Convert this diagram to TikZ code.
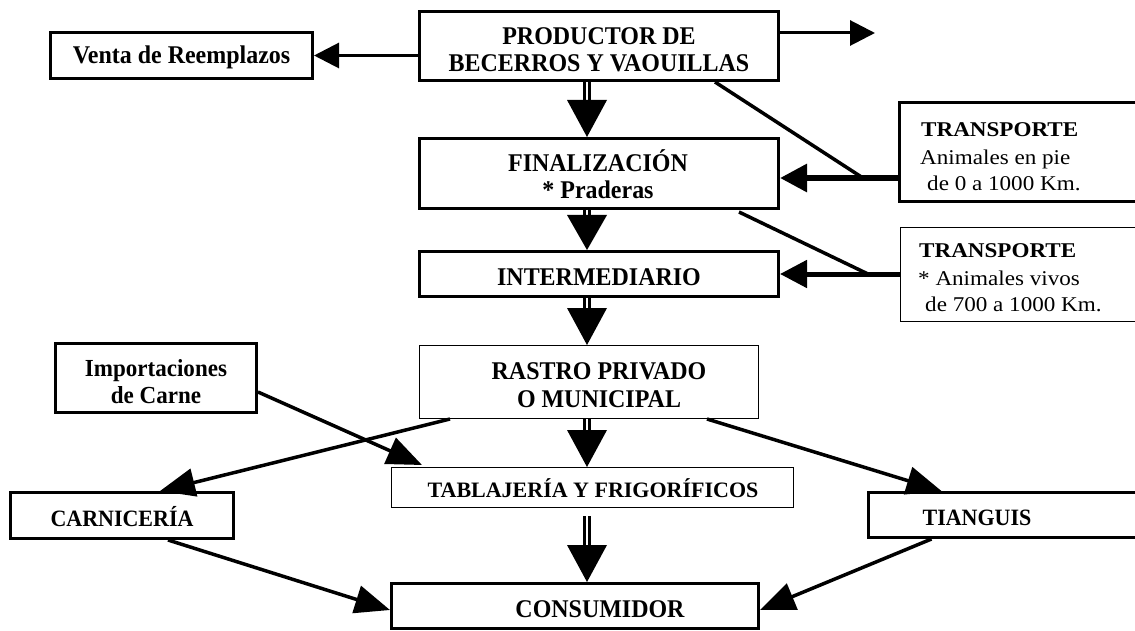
\documentclass[tikz,border=0pt]{standalone}
\usepackage{fontspec}
\setmainfont{Liberation Serif}
\newfontfamily\tallserif[FakeStretch=0.94]{Liberation Serif}
\newfontfamily\wideserif[FakeStretch=1.1]{Liberation Serif}
\usetikzlibrary{arrows.meta,calc}
\begin{document}
\begin{tikzpicture}[x=1pt,y=-1pt,
  tbox/.style={draw, line width=3pt, inner sep=0pt},
  nbox/.style={draw, line width=1pt, inner sep=0pt},
  lbl/.style={inner sep=0pt, anchor=base, font=\tallserif\bfseries\fontsize{25.5}{27}\selectfont},
  slbl/.style={lbl, font=\tallserif\bfseries\fontsize{23.4}{27}\selectfont},
  tlbl/.style={inner sep=0pt, anchor=base west, font=\wideserif\fontsize{21}{27}\selectfont},
  arr/.style={line width=3pt, -{Triangle[length=25pt,width=25pt]}},
  slant/.style={line width=3.5pt, -{Triangle[length=35pt,width=28pt]}},
  dbl/.style={double, line width=3pt, double distance=2pt},
  headfill/.style={fill=black}]
\useasboundingbox (0,0) rectangle (1135,631);
\clip (0,0) rectangle (1135,631);

% boxes
\node[tbox, minimum width=359pt, minimum height=69pt] (prod) at (599,46) {};
\node[tbox, minimum width=262pt, minimum height=46pt] (venta) at (181.5,55.5) {};
\node[tbox, minimum width=359pt, minimum height=70pt] (fin) at (599,173.5) {};
\node[tbox, minimum width=359pt, minimum height=45pt] (inter) at (599,274) {};
\node[nbox, minimum width=339pt, minimum height=73pt] (rastro) at (589,382) {};
\node[nbox, minimum width=402pt, minimum height=40pt] (tabla) at (592.5,487.5) {};
\node[tbox, minimum width=367pt, minimum height=45pt] (cons) at (575,606) {};
\node[tbox, minimum width=223pt, minimum height=46pt] (carn) at (122,515.5) {};
\node[tbox, minimum width=292pt, minimum height=45pt] (tiang) at (1014,515) {};
\node[tbox, minimum width=201pt, minimum height=69pt] (impo) at (156,378) {};
\node[tbox, minimum width=259pt, minimum height=99pt] (trans1) at (1029,152) {};
\node[nbox, minimum width=259pt, minimum height=94pt] (trans2) at (1029.5,274.5) {};

% texts
\node[lbl] (prodt1) at (599,45) {PRODUCTOR DE};
\node[lbl] (prodt2) at (599,72) {BECERROS Y VAOUILLAS};
\node[lbl] (ventat) at (181.5,64) {Venta de Reemplazos};
\node[lbl] (fint1) at (598,172) {FINALIZACIÓN};
\node[lbl] (fint2) at (598,199) {* Praderas};
\node[lbl] (intert) at (599,285) {INTERMEDIARIO};
\node[lbl] (rastrot1) at (599,379) {RASTRO PRIVADO};
\node[lbl] (rastrot2) at (599,407) {O MUNICIPAL};
\node[inner sep=0pt, anchor=base, font=\bfseries\fontsize{22}{26}\selectfont] (tablat) at (593,497) {TABLAJERÍA Y FRIGORÍFICOS};
\node[lbl] (const) at (600,617) {CONSUMIDOR};
\node[slbl] (carnt) at (122,526) {CARNICERÍA};
\node[slbl] (tiangt) at (977,525) {TIANGUIS};
\node[lbl, font=\tallserif\bfseries\fontsize{24.5}{27}\selectfont] (impot1) at (156,376) {Importaciones};
\node[lbl, font=\tallserif\bfseries\fontsize{24.5}{27}\selectfont] (impot2) at (156,403) {de Carne};
\node[tlbl, font=\wideserif\bfseries\fontsize{21}{27}\selectfont] (tr1a) at (921,137) {TRANSPORTE};
\node[tlbl] (tr1b) at (920,165) {Animales en pie};
\node[tlbl] (tr1c) at (927,191) {de 0 a 1000 Km.};
\node[tlbl, font=\wideserif\bfseries\fontsize{21}{27}\selectfont] (tr2a) at (919,258) {TRANSPORTE};
\node[tlbl] (tr2b) at (918,285) {* Animales vivos};
\node[tlbl] (tr2c) at (925,311) {de 700 a 1000 Km.};

% double-line vertical arrows
\coordinate (ax) at (587,0);
\draw[dbl] (prod.south -| ax) -- ($(fin.north -| ax)+(0,-37)$);
\fill[headfill] (fin.north -| ax) -- ++(-20,-37) -- ++(40,0) -- cycle;
\draw[dbl] (fin.south -| ax) -- ($(inter.north -| ax)+(0,-35)$);
\fill[headfill] (inter.north -| ax) -- ++(-20,-35) -- ++(40,0) -- cycle;
\draw[dbl] (inter.south -| ax) -- ($(rastro.north -| ax)+(0,-37)$);
\fill[headfill] (rastro.north -| ax) -- ++(-20,-37) -- ++(40,0) -- cycle;
\draw[dbl] (rastro.south -| ax) -- ($(tabla.north -| ax)+(0,-37)$);
\fill[headfill] (tabla.north -| ax) -- ++(-20,-37) -- ++(40,0) -- cycle;
\draw[dbl] ($(tabla.south -| ax)+(0,8)$) -- ($(cons.north -| ax)+(0,-37)$);
\fill[headfill] (cons.north -| ax) -- ++(-20,-37) -- ++(40,0) -- cycle;

% top arrows
\coordinate (outr) at (875,33);
\draw[arr] (prod.east |- outr) -- (outr);
\draw[arr] (prod.west |- venta.east) -- (venta.east);

% transport arrows
\coordinate (j1) at (863,178);
\draw[line width=6pt, -{Triangle[length=27pt,width=27pt]}] (trans1.west |- j1) -- (fin.east |- j1);
\draw[line width=3.5pt] ($(prod.south east)+(-65,0)$) -- (j1);
\coordinate (j2) at (868,274);
\draw[line width=5pt, -{Triangle[length=27pt,width=27pt]}] (trans2.west |- j2) -- (inter.east |- j2);
\draw[line width=3.5pt] ($(fin.south east)+(-41,2)$) -- (j2);

% slanted arrows
\draw[slant] ($(impo.east)+(0,14)$) -- ($(tabla.north west)+(31,-2)$);
\draw[slant] ($(rastro.south west)+(31,0)$) -- ($(carn.north)+(38,0)$);
\draw[slant] ($(rastro.south east)+(-52,0)$) -- ($(tiang.north west)+(75,0)$);
\draw[slant] ($(carn.south)+(46,0)$) -- ($(cons.west)+(0,4)$);
\draw[slant] ($(tiang.south west)+(65,0)$) -- ($(cons.east)+(0,4)$);
\end{tikzpicture}
\end{document}
